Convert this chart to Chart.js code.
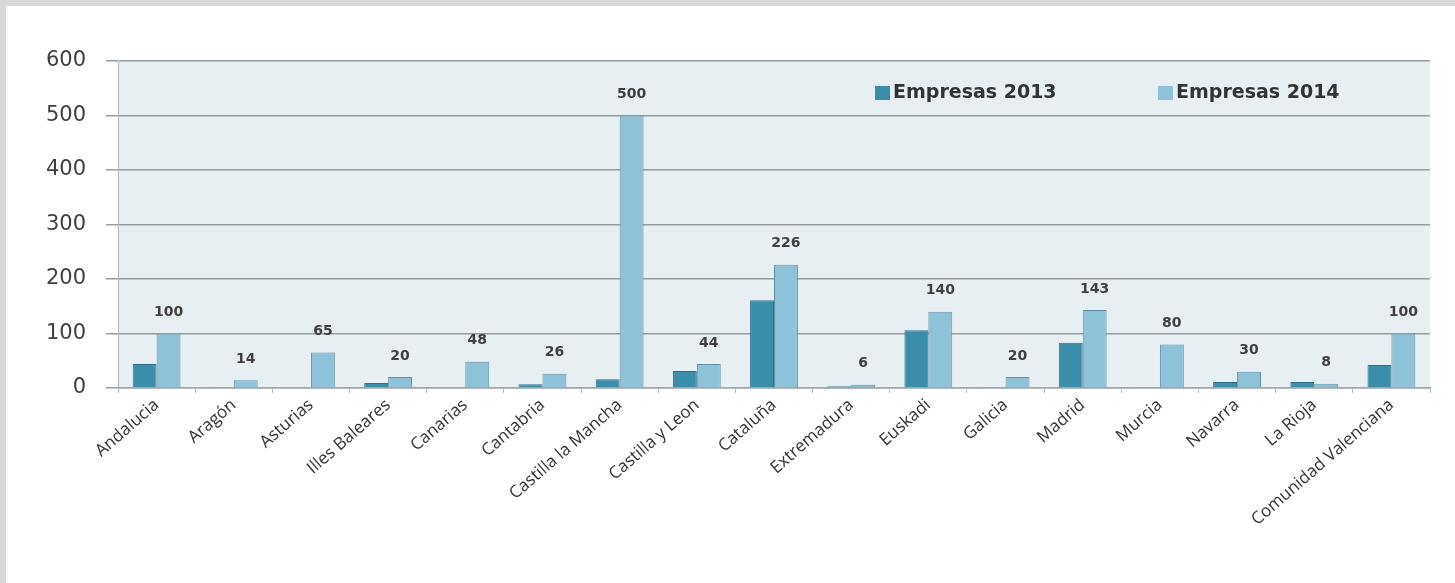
<!DOCTYPE html>
<html>
<head>
<meta charset="utf-8">
<script src="https://cdn.jsdelivr.net/npm/chart.js@4"></script>
<style>
  html, body { margin: 0; padding: 0; background: #d9d9d9; }
  #wrap { position: absolute; left: 6px; top: 6px; width: 1449px; height: 577px; background: #fff; }
</style>
</head>
<body>
<div id="wrap"><canvas id="chart"></canvas></div>
<script>
const regions = ['Andalucia', 'Aragón', 'Asturias', 'Illes Baleares', 'Canarias', 'Cantabria',
  'Castilla la Mancha', 'Castilla y Leon', 'Cataluña', 'Extremadura', 'Euskadi', 'Galicia',
  'Madrid', 'Murcia', 'Navarra', 'La Rioja', 'Comunidad Valenciana'];
const empresas2013 = [44, 2, 0, 9, 0, 7, 16, 31, 161, 3, 106, 2, 83, 1, 11, 11, 42];
const empresas2014 = [100, 14, 65, 20, 48, 26, 500, 44, 226, 6, 140, 20, 143, 80, 30, 8, 100];
const yTicks = [0, 100, 200, 300, 400, 500, 600];

// light plot background
const plotBg = {
  id: 'plotBg',
  beforeDraw(chart) {
    const { ctx, chartArea: a } = chart;
    ctx.save();
    ctx.fillStyle = '#e8eff3';
    ctx.fillRect(a.left, a.top, a.right - a.left, a.bottom - a.top);
    ctx.restore();
  }
};

// value labels over the 2014 bars
const valueLabels = {
  id: 'valueLabels',
  afterDatasetsDraw(chart) {
    const { ctx } = chart;
    const meta = chart.getDatasetMeta(1);
    ctx.save();
    ctx.font = 'bold 14px "DejaVu Sans"';
    ctx.fillStyle = '#404040';
    ctx.textAlign = 'center';
    ctx.textBaseline = 'bottom';
    meta.data.forEach((bar, i) => {
      ctx.fillText(empresas2014[i], bar.x, bar.y - 14);
    });
    ctx.restore();
  }
};

// legend inside the plot, top right
const innerLegend = {
  id: 'innerLegend',
  afterDraw(chart) {
    const { ctx } = chart;
    const items = [
      { x: 869, ds: chart.data.datasets[0] },
      { x: 1152, ds: chart.data.datasets[1] }
    ];
    ctx.save();
    ctx.font = 'bold 19px "DejaVu Sans"';
    ctx.textBaseline = 'middle';
    items.forEach(it => {
      ctx.fillStyle = it.ds.backgroundColor;
      ctx.fillRect(it.x, 80, 15, 14);
      ctx.fillStyle = '#333';
      ctx.fillText(it.ds.label, it.x + 18, 87);
    });
    ctx.restore();
  }
};

new Chart(document.getElementById('chart'), {
  type: 'bar',
  data: {
    labels: regions,
    datasets: [
      {
        label: 'Empresas 2013',
        data: empresas2013,
        backgroundColor: '#3a8eaa',
        borderColor: '#2f7088',
        borderWidth: 1,
        categoryPercentage: 0.62,
        barPercentage: 1
      },
      {
        label: 'Empresas 2014',
        data: empresas2014,
        backgroundColor: '#8ec2d8',
        borderColor: '#5f8fa3',
        borderWidth: 1,
        categoryPercentage: 0.62,
        barPercentage: 1
      }
    ]
  },
  options: {
    responsive: true,
    maintainAspectRatio: false,
    animation: false,
    layout: { padding: { top: 55, right: 25, left: 0, bottom: 0 } },
    plugins: {
      legend: { display: false },
      tooltip: { enabled: false }
    },
    scales: {
      y: {
        min: 0,
        max: 600,
        afterBuildTicks(axis) { axis.ticks = yTicks.map(v => ({ value: v })); },
        afterFit(axis) { axis.width = 112; },
        border: { color: '#b0b8bc', width: 1 },
        grid: { color: '#949ca0', lineWidth: 1.5, tickLength: 12 },
        ticks: { color: '#404040', padding: 20, font: { family: 'DejaVu Sans', size: 21 } }
      },
      x: {
        afterFit(axis) { axis.height = 195; },
        border: { color: '#a0a8ac', width: 1.5 },
        grid: { drawOnChartArea: false, color: '#b0b8bc', tickLength: 5, offset: true },
        ticks: {
          color: '#333',
          minRotation: 41,
          maxRotation: 41,
          padding: 2,
          font: { family: 'Open Sans', size: 17 }
        }
      }
    }
  },
  plugins: [plotBg, valueLabels, innerLegend]
});
</script>
</body>
</html>
